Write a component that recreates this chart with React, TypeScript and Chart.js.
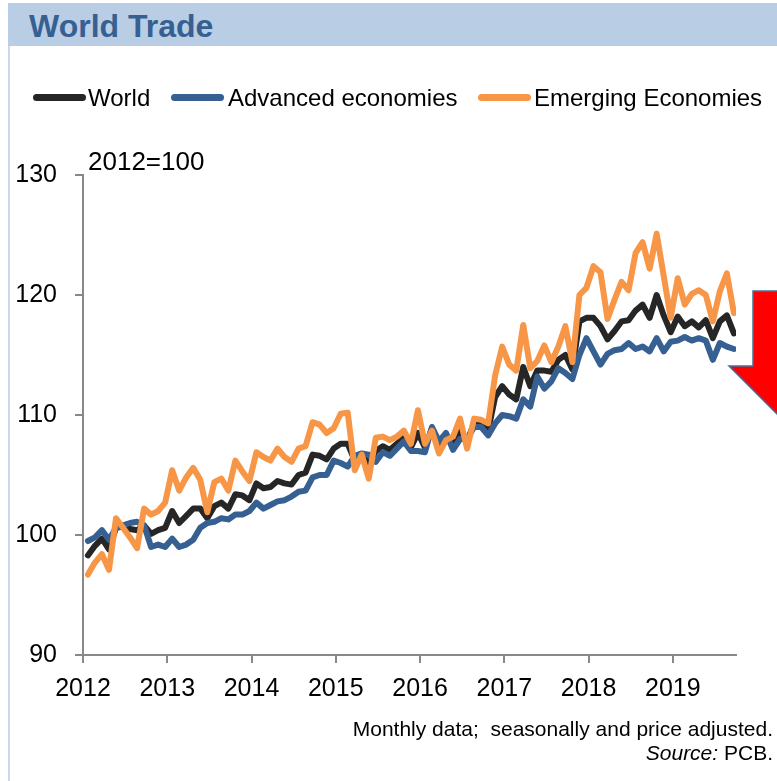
import React, { useEffect, useRef } from 'react';
import { Chart, registerables } from 'chart.js';

Chart.register(...registerables);

// ---- data ----
const yearLabels = ['2012', '2013', '2014', '2015', '2016', '2017', '2018', '2019'];
const yTickValues = [90, 100, 110, 120, 130];
const seriesNames = ['World', 'Advanced economies', 'Emerging Economies'];
const seriesColors = ['#262626', '#376092', '#F79646'];

// monthly, Jan 2012 - Sep 2019 (2012 = 100)
const world = [
  98.3, 99.1, 99.7, 98.8, 100.6, 100.7, 100.5, 100.4, 100.8, 100.1, 100.4, 100.6,
  102.0, 101.0, 101.6, 102.2, 102.2, 101.4, 102.4, 102.7, 102.2, 103.4, 103.3, 102.9,
  104.3, 103.9, 104.0, 104.5, 104.3, 104.2, 105.0, 105.2, 106.7, 106.6, 106.3, 107.2,
  107.6, 107.6, 106.2, 106.7, 105.9, 107.0, 107.4, 107.1, 107.6, 108.1, 107.3, 108.5,
  107.3, 108.9, 107.4, 108.3, 107.5, 108.7, 107.8, 109.3, 109.2, 108.7, 111.5, 112.4,
  111.7, 111.3, 114.0, 112.4, 113.7, 113.7, 113.6, 114.6, 115.0, 113.8, 117.8, 118.1,
  118.1, 117.4, 116.3, 117.0, 117.8, 117.9, 118.7, 119.2, 118.1, 120.0, 118.3, 116.9,
  118.2, 117.4, 117.8, 117.3, 117.9, 116.4, 117.8, 118.3, 116.8,
];
const advanced = [
  99.5, 99.8, 100.4, 99.6, 100.6, 100.8, 101.0, 101.1, 100.8, 99.0, 99.2, 99.0,
  99.7, 99.0, 99.2, 99.6, 100.6, 101.0, 101.1, 101.4, 101.3, 101.7, 101.7, 102.0,
  102.7, 102.2, 102.5, 102.8, 102.9, 103.2, 103.6, 103.7, 104.8, 105.0, 105.0, 106.2,
  106.0, 105.7, 106.6, 106.8, 106.7, 106.1, 106.9, 106.6, 107.2, 107.8, 107.0, 107.0,
  106.9, 109.0, 107.8, 108.5, 107.1, 108.0, 108.0, 109.0, 109.0, 108.3, 109.3, 110.0,
  109.9, 109.7, 111.3, 110.7, 113.2, 112.2, 112.8, 113.9, 113.5, 113.0, 115.0, 116.4,
  115.3, 114.2, 115.1, 115.4, 115.5, 116.0, 115.5, 115.7, 115.3, 116.4, 115.3, 116.1,
  116.2, 116.5, 116.2, 116.4, 116.2, 114.6, 116.0, 115.7, 115.5,
];
const emerging = [
  96.7, 97.7, 98.4, 97.1, 101.4, 100.6, 99.8, 98.9, 102.2, 101.7, 102.0, 102.7,
  105.4, 103.7, 104.8, 105.6, 104.6, 101.9, 104.4, 104.7, 103.7, 106.2, 105.3, 104.5,
  106.9, 106.5, 106.2, 107.2, 106.5, 106.1, 107.2, 107.4, 109.4, 109.2, 108.5, 108.9,
  110.1, 110.2, 105.4, 106.7, 104.7, 108.1, 108.2, 107.9, 108.2, 108.7, 107.6, 110.4,
  107.6, 108.7, 106.8, 107.9, 108.2, 109.7, 107.2, 109.7, 109.6, 109.3, 113.3, 115.7,
  114.2, 113.7, 117.5, 113.9, 114.5, 115.8, 114.4, 115.7, 117.4, 114.4, 120.0, 120.6,
  122.4, 121.9, 118.0, 119.6, 121.1, 120.4, 123.5, 124.4, 122.2, 125.1, 121.6, 118.1,
  121.4, 119.2, 120.1, 120.4, 120.0, 117.8, 120.3, 121.8, 118.5,
];

const MONTH_OFFSET = 0.7; // position of each monthly point inside its month slot
const AXIS_MAX_MONTHS = 93;
const FONT = '"Liberation Sans", Arial, sans-serif';
const AXIS_COLOR = '#888888';

export default function App() {
  const canvasRef = useRef<HTMLCanvasElement>(null);

  useEffect(() => {
    if (!canvasRef.current) return;
    Chart.defaults.font.family = FONT;
    const all = [world, advanced, emerging];
    const datasets = all.map((vals, k) => ({
      label: seriesNames[k],
      data: vals.map((v, i) => ({ x: i + MONTH_OFFSET, y: v })),
      borderColor: seriesColors[k],
      backgroundColor: seriesColors[k],
      borderWidth: 6,
      pointRadius: 0,
      pointHoverRadius: 0,
      borderCapStyle: 'round' as const,
      borderJoinStyle: 'round' as const,
      tension: 0,
      fill: false,
      order: 3 - k,
    }));

    const chart = new Chart(canvasRef.current, {
      type: 'line',
      data: { datasets },
      options: {
        animation: false,
        responsive: false,
        maintainAspectRatio: false,
        layout: { padding: { left: 0, top: 175, right: 41, bottom: 66 } },
        plugins: {
          legend: { display: false },
          tooltip: { enabled: false },
          title: { display: false },
        },
        scales: {
          x: {
            type: 'linear',
            min: 0,
            max: AXIS_MAX_MONTHS,
            afterBuildTicks: (s: any) => {
              s.ticks = yearLabels.map((_, k) => ({ value: k * 12 }));
            },
            afterFit: (s: any) => {
              s.height = 60;
            },
            grid: {
              drawOnChartArea: false,
              drawTicks: true,
              tickLength: 8,
              color: AXIS_COLOR,
              lineWidth: 2,
            },
            border: { color: AXIS_COLOR, width: 2 },
            ticks: {
              color: '#000',
              font: { size: 25, family: FONT },
              padding: 11,
              maxRotation: 0,
              autoSkip: false,
              callback: (v: any) => yearLabels[Math.round(Number(v) / 12)] ?? '',
            },
          },
          y: {
            min: 90,
            max: 130,
            afterBuildTicks: (s: any) => {
              s.ticks = yTickValues.map((v) => ({ value: v }));
            },
            afterFit: (s: any) => {
              s.width = 83;
            },
            grid: {
              drawOnChartArea: false,
              drawTicks: true,
              tickLength: 8,
              color: AXIS_COLOR,
              lineWidth: 2,
            },
            border: { color: AXIS_COLOR, width: 2 },
            ticks: {
              color: '#000',
              font: { size: 25, family: FONT },
              padding: 18,
              callback: (v: any) => String(v),
            },
          },
        },
      },
    });
    return () => chart.destroy();
  }, []);

  const legendItems = [
    { sample: 33, text: 88 },
    { sample: 171, text: 228 },
    { sample: 478, text: 534 },
  ];

  return (
    <div
      style={{
        position: 'absolute',
        left: 0,
        top: 0,
        width: 777,
        height: 781,
        overflow: 'hidden',
        background: '#fff',
        fontFamily: FONT,
      }}
    >
      <div style={{ position: 'absolute', left: 8, top: 3, width: 769, height: 43, background: '#B9CDE5' }} />
      <div
        style={{
          position: 'absolute',
          left: 29,
          top: 10,
          fontSize: 32,
          lineHeight: '32px',
          fontWeight: 'bold',
          color: '#376092',
          whiteSpace: 'nowrap',
        }}
      >
        World Trade
      </div>
      <div style={{ position: 'absolute', left: 8, top: 46, width: 2, bottom: 0, background: '#C6D9EE' }} />

      <canvas
        ref={canvasRef}
        width={777}
        height={781}
        style={{ position: 'absolute', left: 0, top: 0, width: 777, height: 781 }}
      />

      {legendItems.map((it, k) => (
        <React.Fragment key={k}>
          <div
            style={{
              position: 'absolute',
              left: it.sample,
              top: 94,
              width: 53,
              height: 7,
              borderRadius: 4,
              background: seriesColors[k],
            }}
          />
          <div
            style={{
              position: 'absolute',
              left: it.text,
              top: 86,
              fontSize: 24,
              lineHeight: '24px',
              color: '#000',
              whiteSpace: 'nowrap',
            }}
          >
            {seriesNames[k]}
          </div>
        </React.Fragment>
      ))}

      <div
        style={{
          position: 'absolute',
          left: 88,
          top: 148,
          fontSize: 26,
          lineHeight: '26px',
          color: '#000',
          whiteSpace: 'nowrap',
        }}
      >
        2012=100
      </div>

      <div
        style={{
          position: 'absolute',
          right: 4,
          top: 718,
          fontSize: 21,
          lineHeight: '21px',
          color: '#000',
          whiteSpace: 'pre',
          textAlign: 'right',
        }}
      >
        {'Monthly data;  seasonally and price adjusted.'}
      </div>
      <div
        style={{
          position: 'absolute',
          right: 4,
          top: 742,
          fontSize: 21,
          lineHeight: '21px',
          color: '#000',
          whiteSpace: 'pre',
          textAlign: 'right',
        }}
      >
        <i>Source:</i>
        {' PCB.'}
      </div>

      <svg
        width={777}
        height={781}
        style={{ position: 'absolute', left: 0, top: 0, pointerEvents: 'none' }}
      >
        <polygon
          points="753,291 847,291 847,366 871,366 800,437 729,366 753,366"
          fill="#FF0000"
          stroke="#41719C"
          strokeWidth={1.5}
        />
      </svg>
    </div>
  );
}
